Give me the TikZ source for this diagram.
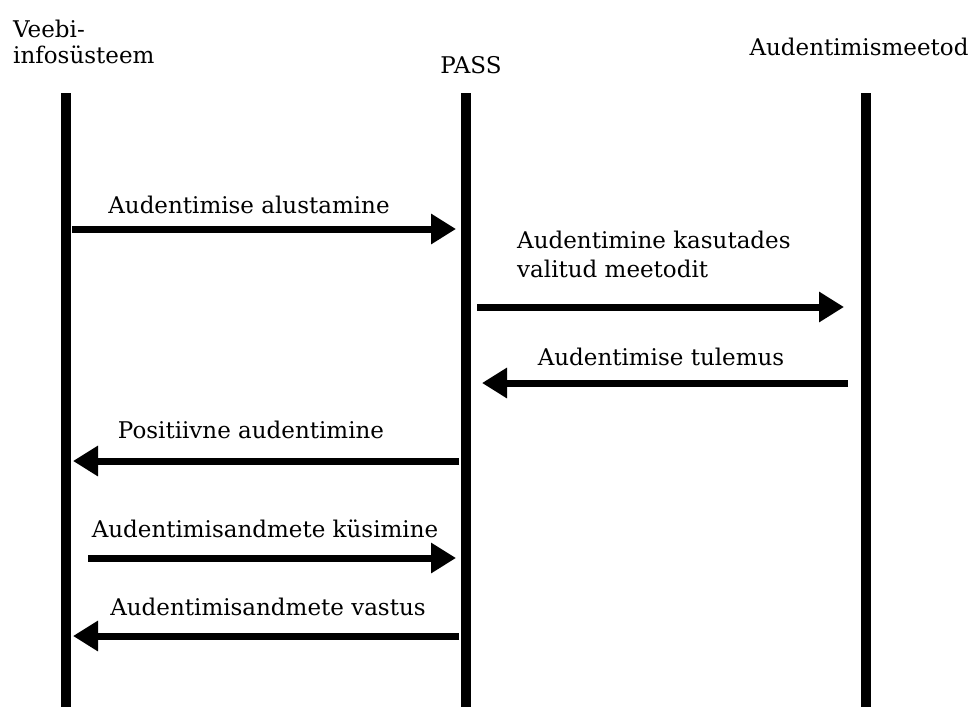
\documentclass[tikz,border=0pt]{standalone}
\usepackage{fontspec}
\setmainfont{DejaVu Serif}
\usetikzlibrary{arrows.meta}
\begin{document}
\begin{tikzpicture}[x=1pt,y=-1pt,
  lifeline/.style={line width=10pt},
  msg/.style={line width=7pt,-{Triangle[length=25pt,width=29pt]}},
  lbl/.style={font=\fontsize{23}{28}\selectfont,inner sep=0pt,anchor=base}]
\useasboundingbox (0,0) rectangle (974,707);
% headers
\node[lbl,anchor=base west] (hA1) at (13,37) {Veebi-};
\node[lbl,anchor=base west] (hA2) at (13,63) {infosüsteem};
\node[lbl] (hB) at (471,73) {PASS};
\node[lbl] (hC) at (859,55) {Audentimismeetod};
% lifelines
\coordinate (A0) at (66,93); \coordinate (A1) at (66,707);
\coordinate (B0) at (466,93); \coordinate (B1) at (466,707);
\coordinate (C0) at (866,93); \coordinate (C1) at (866,707);
\draw[lifeline] (A0) -- (A1);
\draw[lifeline] (B0) -- (B1);
\draw[lifeline] (C0) -- (C1);
% messages
\coordinate (m1s) at (72,229); \coordinate (m1e) at (456,229);
\draw[msg] (m1s) -- (m1e);
\node[lbl] (t1) at (249,213) {Audentimise alustamine};
\coordinate (m2s) at (477,307); \coordinate (m2e) at (844,307);
\draw[msg] (m2s) -- (m2e);
\node[lbl,anchor=base west] (t2a) at (517,248) {Audentimine kasutades};
\node[lbl,anchor=base west] (t2b) at (517,277) {valitud meetodit};
\coordinate (m3s) at (848,383); \coordinate (m3e) at (482,383);
\draw[msg] (m3s) -- (m3e);
\node[lbl] (t3) at (661,365) {Audentimise tulemus};
\coordinate (m4s) at (459,461); \coordinate (m4e) at (73,461);
\draw[msg] (m4s) -- (m4e);
\node[lbl] (t4) at (251,438) {Positiivne audentimine};
\coordinate (m5s) at (88,558); \coordinate (m5e) at (456,558);
\draw[msg] (m5s) -- (m5e);
\node[lbl] (t5) at (265,537) {Audentimisandmete küsimine};
\coordinate (m6s) at (459,636); \coordinate (m6e) at (73,636);
\draw[msg] (m6s) -- (m6e);
\node[lbl] (t6) at (268,615) {Audentimisandmete vastus};
\end{tikzpicture}
\end{document}
